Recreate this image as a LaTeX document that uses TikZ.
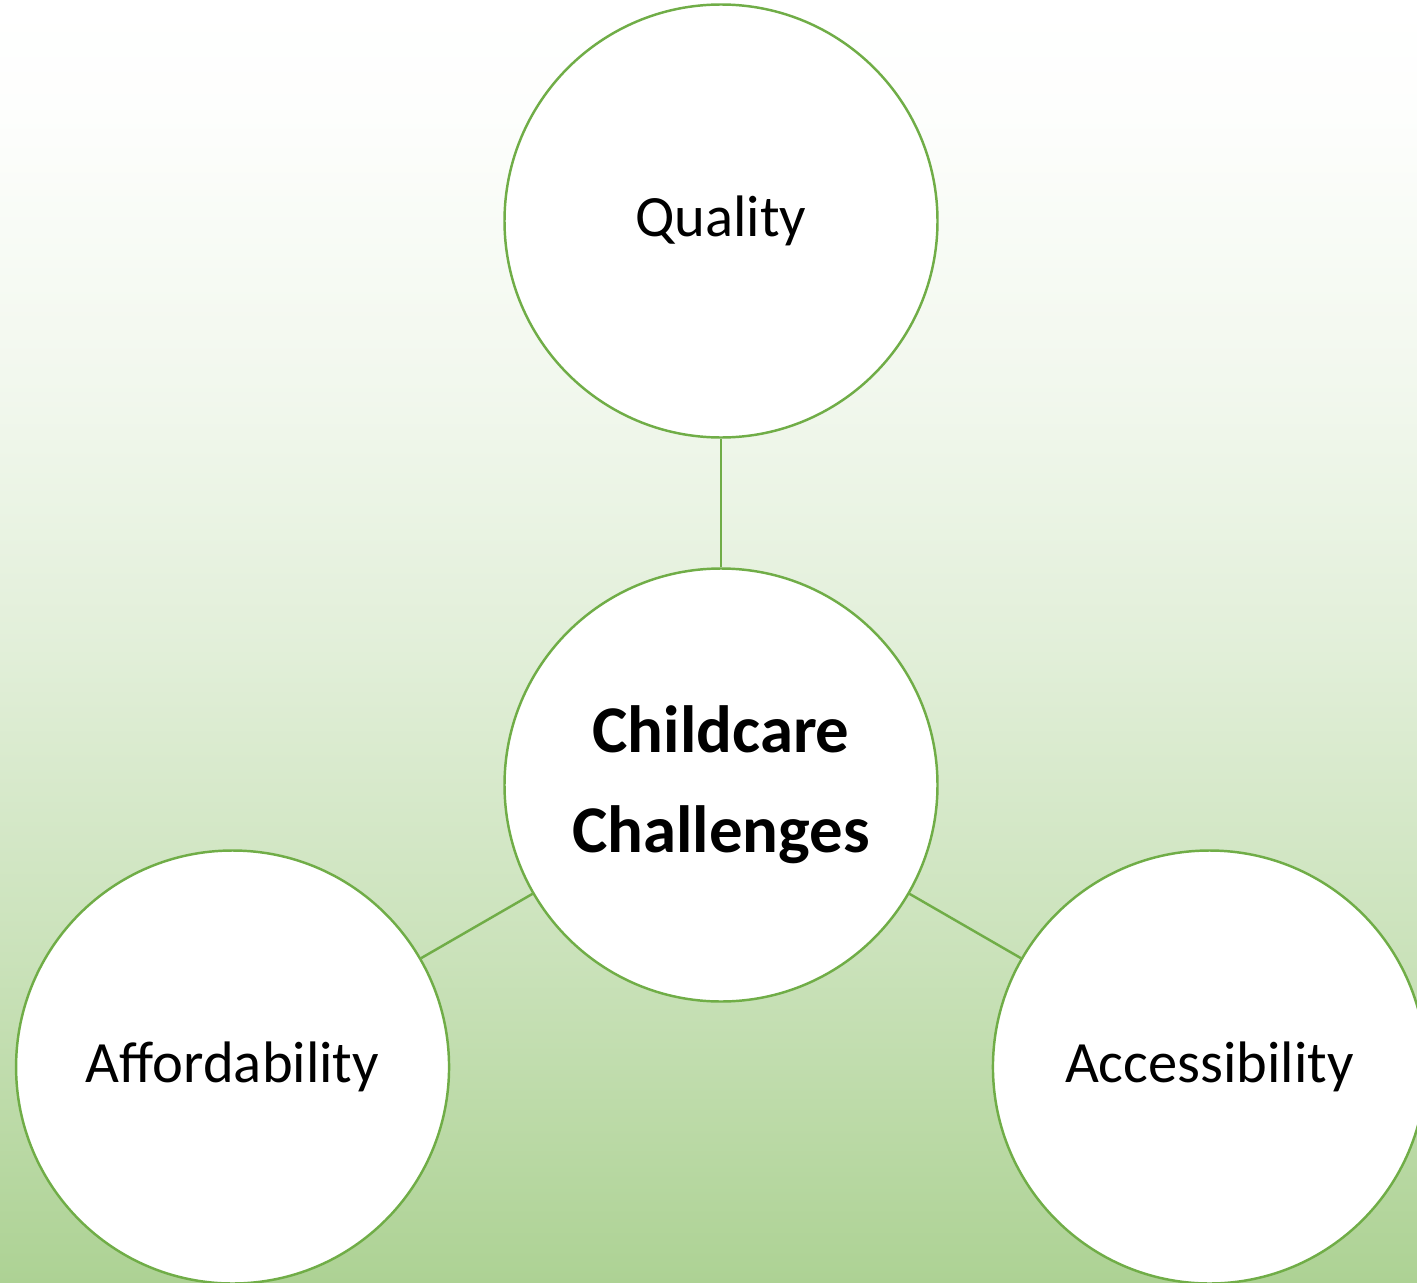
\documentclass[tikz,border=0pt]{standalone}
\usepackage{fontspec}
\setmainfont{Carlito}
\usepackage{tikz}
\usetikzlibrary{positioning}
\definecolor{ringgreen}{RGB}{112,173,71}
\definecolor{fieldgreen}{RGB}{173,210,148}
\pgfdeclareverticalshading{fieldshade}{100bp}{color(0bp)=(fieldgreen);
  color(25bp)=(fieldgreen); color(37.5bp)=(fieldgreen!65!white);
  color(50bp)=(fieldgreen!35!white); color(59.5bp)=(fieldgreen!17!white);
  color(71bp)=(fieldgreen!2!white); color(75bp)=(white); color(100bp)=(white)}
\tikzstyle{topic}=[circle, draw=ringgreen, fill=white, line width=1.4pt,
  minimum size=8.66cm, inner sep=0pt, font=\fontsize{33.3}{40}\selectfont]
\tikzstyle{hub}=[topic, align=center,
  font=\fontsize{38}{57}\selectfont\bfseries]
\tikzstyle{link}=[draw, ringgreen, line width=1.4pt]
\newcommand{\topic}[2]{node (t#1) [topic]
  {#2}}

\begin{document}
\begin{tikzpicture}

    % Background
    \clip (0,0) rectangle (28.34,-25.66);
    \shade[shading=fieldshade] (0,0) rectangle (28.34,-25.66);

    % Draw diagram elements
    \node (hub) [hub] at (14.42,-15.70) {Childcare\\Challenges};
    \path (hub)+(90:11.28) \topic{q}{Quality};
    \path (hub)+(210:11.28) \topic{f}{Affordability};
    \path (hub)+(330:11.28) \topic{a}{Accessibility};
    % Draw links between elements
    \path [link] (hub) -- (tq);
    \path [link] (hub) -- (tf);
    \path [link] (hub) -- (ta);

\end{tikzpicture}
\end{document}
